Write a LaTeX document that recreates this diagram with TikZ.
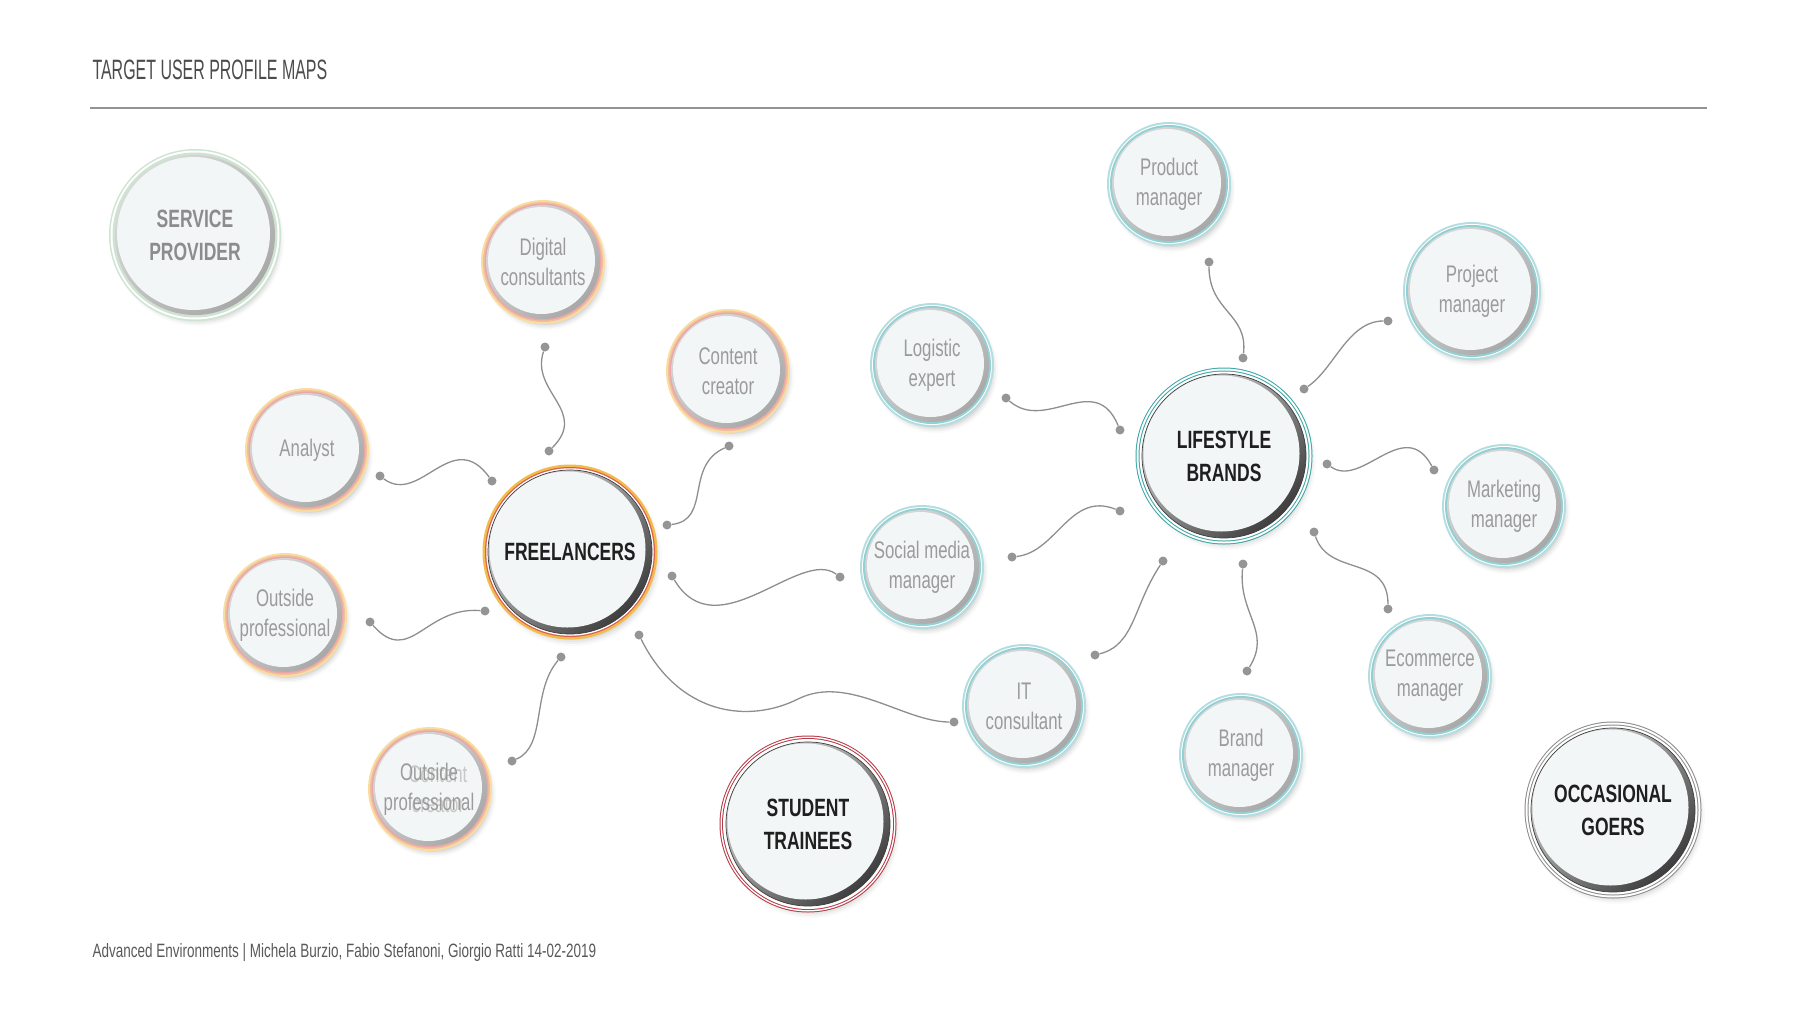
\documentclass[tikz,border=0pt]{standalone}
\usepackage{fontspec}
\setmainfont{Liberation Sans}[FakeStretch=0.7]
\newfontfamily\titlefont{Liberation Sans}[FakeStretch=0.57]
\usetikzlibrary{shadows.blur}

\definecolor{facefill}{HTML}{F3F6F6}
\definecolor{rimlight}{HTML}{DADADA}
\definecolor{rimsoft}{HTML}{A8A8A8}
\definecolor{rimdark}{HTML}{3E3E3E}
\definecolor{labelgray}{HTML}{9B9B9B}
\definecolor{wiregray}{HTML}{8E8E8E}
\definecolor{pingray}{HTML}{959595}
\definecolor{frYellow}{HTML}{F8DDA0}
\definecolor{frSalmon}{HTML}{F2BE9E}
\definecolor{frPink}{HTML}{E9A7A7}
\definecolor{frGold}{HTML}{F2BC4C}
\definecolor{frRed}{HTML}{DA5E50}
\definecolor{lbLight}{HTML}{B3DDDF}
\definecolor{lbMid}{HTML}{93D0D3}
\definecolor{lbTeal}{HTML}{3AA5A6}
\definecolor{stRed}{HTML}{B53A46}
\definecolor{ogGray}{HTML}{8C8C8C}
\definecolor{spGreen}{HTML}{CFE3D3}

\tikzset{
    bubble/.style={circle, inner sep=0pt, minimum size=#1, shade, top color=rimlight, bottom color=rimsoft, shading angle=45, align=center,
        text=labelgray, font=\fontsize{24}{30}\selectfont,
        blur shadow={shadow xshift=3pt, shadow yshift=-5pt, shadow blur radius=6pt, shadow opacity=30},
        path picture={\fill[facefill] ([shift={(-1.5pt,1.5pt)}]path picture bounding box.center) circle (#1/2-3.5pt);}},
    bubble/.default=114pt,
    hub/.style={circle, inner sep=0pt, minimum size=164pt, shade, top color=rimlight, bottom color=rimdark, shading angle=45, align=center,
        text=black!88, font=\bfseries\fontsize{25}{33}\selectfont,
        blur shadow={shadow xshift=3pt, shadow yshift=-5pt, shadow blur radius=7pt, shadow opacity=30},
        path picture={\fill[facefill] ([shift={(-2.5pt,2.5pt)}]path picture bounding box.center) circle (78pt);}},
    freering/.style={preaction={draw=frYellow, line width=10pt}, preaction={draw=frSalmon, line width=6pt}, preaction={draw=frPink, line width=3pt}},
    lifering/.style={preaction={draw=lbLight, line width=10pt}, preaction={draw=white, line width=6pt}, preaction={draw=lbMid, line width=4pt}},
    freehub/.style={preaction={draw=frGold, line width=11pt}, preaction={draw=frRed, line width=6pt}, preaction={draw=white, line width=3.5pt}, postaction={draw=rimdark, line width=0.7pt}},
    lifehub/.style={preaction={draw=lbTeal, line width=13pt}, preaction={draw=white, line width=11pt}, preaction={draw=lbTeal, line width=7pt}, preaction={draw=white, line width=5pt}, postaction={draw=rimdark, line width=0.7pt}},
    studenthub/.style={preaction={draw=stRed, line width=13pt}, preaction={draw=white, line width=11pt}, preaction={draw=stRed, line width=8pt}, preaction={draw=white, line width=6pt}, postaction={draw=rimdark, line width=0.7pt}},
    goerhub/.style={preaction={draw=ogGray, line width=13pt}, preaction={draw=white, line width=11pt}, preaction={draw=ogGray, line width=7pt}, preaction={draw=white, line width=5pt}, postaction={draw=rimdark, line width=0.7pt}},
    pin/.style={circle, fill=pingray, inner sep=0pt, minimum size=9pt},
    wire/.style={draw=wiregray, line width=1.3pt},
}

\begin{document}
\begin{tikzpicture}[x=1pt, y=-1pt]
    \useasboundingbox (0,0) rectangle (1800,1012);

    \node[anchor=base west, text=black!70, font=\titlefont\fontsize{28}{30}\selectfont] (title) at (89,79) {TARGET USER PROFILE MAPS};
    \coordinate (ruleL) at (90,108);
    \coordinate (ruleR) at (1707,108);
    \draw[draw=gray!85, line width=1.2pt] (ruleL) -- (ruleR);
    \node[anchor=base west, text=black!65, font=\fontsize{19.3}{22}\selectfont] (footer) at (89,957) {Advanced Environments | Michela Burzio, Fabio Stefanoni, Giorgio Ratti 14-02-2019};

    % outer groups
    \node[bubble=160pt, preaction={draw=spGreen, line width=12pt}, preaction={draw=white, line width=9pt}, preaction={draw=spGreen, line width=5pt},
          text=gray!90, font=\bfseries\fontsize{25}{33}\selectfont] (sp) at (195,235) {SERVICE\\PROVIDER};
    \node[hub, studenthub] (st) at (808,824) {STUDENT\\TRAINEES};
    \node[hub, goerhub] (og) at (1613,810) {OCCASIONAL\\GOERS};

    % freelancers
    \node[hub, freehub] (fr) at (570,552) {FREELANCERS};
    \node[bubble, freering] (dc) at (543,262) {Digital\\consultants};
    \node[bubble, freering] (cc) at (728,371) {Content\\creator};
    \node[bubble, freering] (an) at (307,450) {Analyst};
    \node[bubble, freering] (op) at (285,615) {Outside\\professional};
    \node[bubble, freering] (oc) at (430,789) {};
    \node[text=labelgray!55, align=center, font=\fontsize{24}{30}\selectfont] (ocback) at (438,789) {Content\\creator};
    \node[text=labelgray, align=center, font=\fontsize{24}{30}\selectfont] (ocfront) at (429,789) {Outside\\professional};

    % lifestyle brands
    \node[hub, lifehub] (lb) at (1224,456) {LIFESTYLE\\BRANDS};
    \node[bubble, lifering] (lg) at (932,365) {Logistic\\expert};
    \node[bubble, lifering] (sm) at (922,567) {Social media\\manager};
    \node[bubble, lifering] (it) at (1024,706) {IT\\consultant};
    \node[bubble, lifering] (pd) at (1169,184) {Product\\manager};
    \node[bubble=128pt, lifering] (pj) at (1472,291) {Project\\manager};
    \node[bubble, lifering] (mk) at (1504,506) {Marketing\\manager};
    \node[bubble, lifering] (ec) at (1430,676) {Ecommerce\\manager};
    \node[bubble, lifering] (bm) at (1241,755) {Brand\\manager};

    % pins
    \node[pin] (dc1) at (545,347) {};
    \node[pin] (dc2) at (549,451) {};
    \node[pin] (an1) at (380,476) {};
    \node[pin] (an2) at (492,481) {};
    \node[pin] (cc1) at (729,446) {};
    \node[pin] (cc2) at (667,525) {};
    \node[pin] (op1) at (370,622) {};
    \node[pin] (op2) at (485,611) {};
    \node[pin] (sm1) at (672,576) {};
    \node[pin] (sm2) at (840,577) {};
    \node[pin] (oc1) at (561,657) {};
    \node[pin] (oc2) at (512,761) {};
    \node[pin] (it1) at (639,635) {};
    \node[pin] (it2) at (954,722) {};
    \node[pin] (lg1) at (1006,398) {};
    \node[pin] (lg2) at (1120,430) {};
    \node[pin] (sl1) at (1012,557) {};
    \node[pin] (sl2) at (1120,511) {};
    \node[pin] (il1) at (1095,655) {};
    \node[pin] (il2) at (1163,561) {};
    \node[pin] (pd1) at (1209,262) {};
    \node[pin] (pd2) at (1243,358) {};
    \node[pin] (pj1) at (1388,321) {};
    \node[pin] (pj2) at (1304,389) {};
    \node[pin] (mk1) at (1327,464) {};
    \node[pin] (mk2) at (1434,470) {};
    \node[pin] (ec1) at (1314,532) {};
    \node[pin] (ec2) at (1388,609) {};
    \node[pin] (bm1) at (1243,564) {};
    \node[pin] (bm2) at (1247,671) {};
    \coordinate (itmid) at (798,699);

    % wires
    \draw[wire] (dc1) .. controls +(-15,45) and +(40,-40) .. (dc2);
    \draw[wire] (an1) .. controls +(40,30) and +(-40,-55) .. (an2);
    \draw[wire] (cc1) .. controls +(-45,20) and +(45,-5) .. (cc2);
    \draw[wire] (op1) .. controls +(40,45) and +(-60,-5) .. (op2);
    \draw[wire] (sm1) .. controls +(45,75) and +(-40,-30) .. (sm2);
    \draw[wire] (oc1) .. controls +(-30,35) and +(35,-15) .. (oc2);
    \draw[wire] (it1) .. controls +(40,80) and +(-50,25) .. (itmid) .. controls +(50,-25) and +(-50,0) .. (it2);
    \draw[wire] (lg1) .. controls +(40,35) and +(-25,-60) .. (lg2);
    \draw[wire] (sl1) .. controls +(45,-5) and +(-50,-20) .. (sl2);
    \draw[wire] (il1) .. controls +(40,-10) and +(-30,45) .. (il2);
    \draw[wire] (pd1) .. controls +(0,50) and +(5,-45) .. (pd2);
    \draw[wire] (pj1) .. controls +(-40,0) and +(30,-20) .. (pj2);
    \draw[wire] (mk1) .. controls +(35,25) and +(-30,-55) .. (mk2);
    \draw[wire] (ec1) .. controls +(15,45) and +(0,-55) .. (ec2);
    \draw[wire] (bm1) .. controls +(-5,50) and +(25,-40) .. (bm2);
\end{tikzpicture}
\end{document}
